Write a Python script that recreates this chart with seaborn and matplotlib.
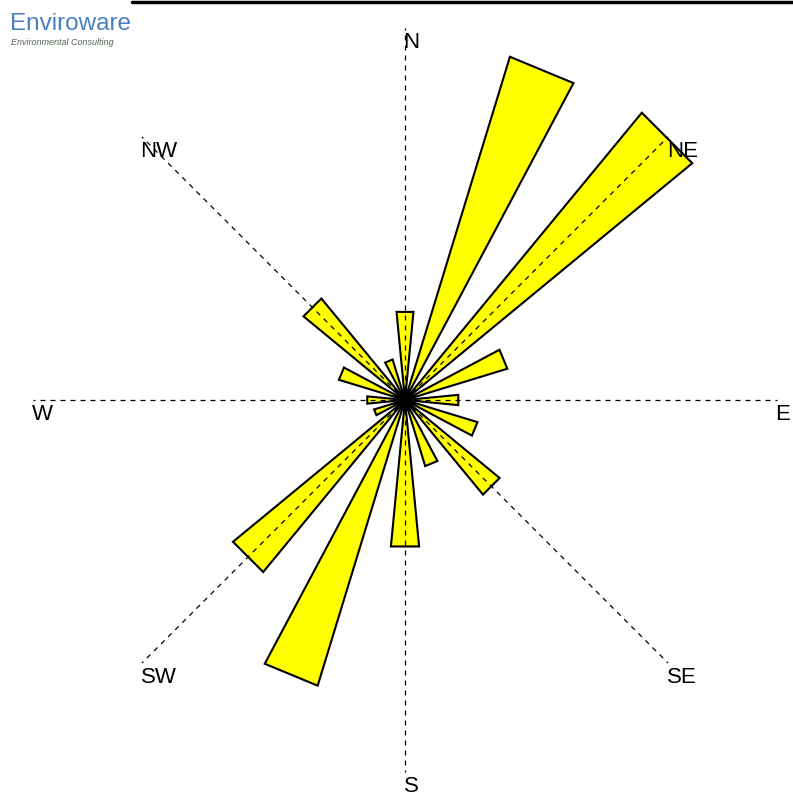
"""
Wind rose, 16 sectors (percent frequency)
"""

import numpy as np
import matplotlib.pyplot as plt
import seaborn as sns
from matplotlib.lines import Line2D

sns.set_style("white")
plt.rcParams['font.family'] = ['Liberation Sans', 'DejaVu Sans']

# Data
directions = ['N', 'NNE', 'NE', 'ENE', 'E', 'ESE', 'SE', 'SSE',
              'S', 'SSW', 'SW', 'WSW', 'W', 'WNW', 'NW', 'NNW']
freq_pct = [3.97, 16.1, 16.7, 4.8, 2.4, 3.4, 5.5, 3.1,
            6.6, 13.4, 10.0, 1.45, 1.7, 3.1, 5.9, 1.9]
axis_labels = ['N', 'NE', 'E', 'SE', 'S', 'SW', 'W', 'NW']
axis_angles = [0, 45, 90, 135, 180, 225, 270, 315]

px_per_pct = 22.19          # radius scale of the rose
r_max = 395 / px_per_pct    # axes half-size in data units
axis_len = 372 / px_per_pct
half_w = np.deg2rad(5.5)    # half width of a wedge

W, H = 793, 796
fig = plt.figure(figsize=(W / 100, H / 100), dpi=100)
cx, cy = 405, H - 400
ax = fig.add_axes([(cx - 395) / W, (cy - 395) / H, 790 / W, 790 / H],
                  projection='polar')
ax.set_theta_zero_location('N')
ax.set_theta_direction(-1)
ax.set_ylim(0, r_max)
ax.grid(False)
ax.set_xticks([])
ax.set_yticks([])
ax.spines['polar'].set_visible(False)
ax.set_facecolor('none')

# wedges with flat outer ends
theta = np.deg2rad(np.arange(len(directions)) * 22.5)
for t, f in zip(theta, freq_pct):
    r_end = f / np.cos(half_w)
    ax.fill([t, t - half_w, t + half_w], [0, r_end, r_end],
            facecolor='#ffff00', edgecolor='black', linewidth=1.5, zorder=2)

# dashed compass axes drawn over the wedges
for lab, ang in zip(axis_labels, axis_angles):
    t = np.deg2rad(ang)
    ax.plot([t, t], [0, axis_len], color='black', linestyle=(0, (4, 4)),
            linewidth=0.9, zorder=3)
    ax.annotate(lab, xy=(t, axis_len), xytext=(-1, -3),
                textcoords='offset points', ha='left', va='top',
                fontsize=16, color='black', zorder=4, annotation_clip=False)

# center blob
ax.plot([0], [0], marker='o', markersize=7, color='black', zorder=4)

# logo
fig.text(10 / W, 1 - 30 / H, 'Enviroware', fontsize=17.5, color='#4a7fc1')
fig.text(11 / W, 1 - 45 / H, 'Environmental Consulting', fontsize=6.5,
         style='italic', color='#556655')

# top frame line
fig.add_artist(Line2D([132 / W, 1], [1 - 1.5 / H, 1 - 1.5 / H],
                      transform=fig.transFigure, color='black', linewidth=2.5))

fig.savefig('out.png', dpi=100, facecolor='white')
